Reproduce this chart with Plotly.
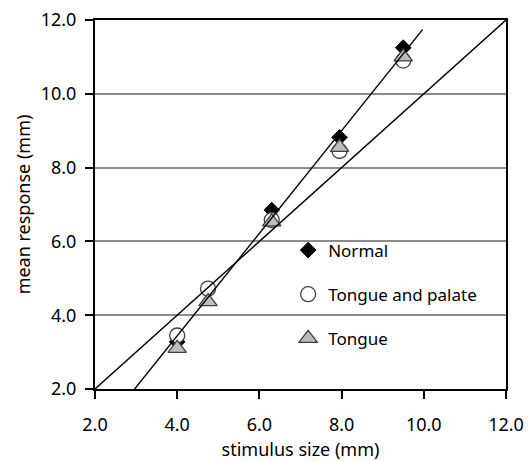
import plotly.graph_objects as go

# Mean response against stimulus size for three groups
stim_normal = [4.0, 6.3, 7.95, 9.5]
normal = [3.28, 6.85, 8.82, 11.25]

stim_groups = [4.0, 4.75, 6.3, 7.95, 9.5]
tongue_palate = [3.45, 4.72, 6.58, 8.45, 10.9]
tongue = [3.1, 4.37, 6.53, 8.55, 11.0]

# Reference lines: identity (y = x) and fitted line for the normal group
identity_x = [2.0, 12.0]
fit_slope = 1.39
fit_intercept = -2.12
fit_x = [2.96, 9.97]

tick_vals = [2, 4, 6, 8, 10, 12]
tick_text = ["2.0", "4.0", "6.0", "8.0", "10.0", "12.0"]

FONT = "Noto Sans"

fig = go.Figure()

fig.add_trace(go.Scatter(
    x=stim_normal, y=normal, mode="markers", name="Normal",
    legendgroup="a",
    marker=dict(symbol="diamond", size=12, color="black",
                line=dict(color="black", width=1)),
))
fig.add_trace(go.Scatter(
    x=stim_groups, y=tongue_palate, mode="markers", name="Tongue and palate",
    legendgroup="b",
    marker=dict(symbol="circle", size=15, color="white",
                line=dict(color="#404040", width=1.3)),
))
fig.add_trace(go.Scatter(
    x=stim_groups, y=tongue, mode="markers", name="Tongue",
    legendgroup="c",
    marker=dict(symbol="triangle-up", size=16, color="#BDBDBD",
                line=dict(color="#404040", width=1.3)),
))

fig.add_trace(go.Scatter(
    x=identity_x, y=identity_x, mode="lines", showlegend=False,
    line=dict(color="black", width=1.4), hoverinfo="skip",
))
fig.add_trace(go.Scatter(
    x=fit_x, y=[fit_slope * v + fit_intercept for v in fit_x],
    mode="lines", showlegend=False,
    line=dict(color="black", width=1.4), hoverinfo="skip",
))

axis_common = dict(
    range=[2, 12], tickvals=tick_vals, ticktext=tick_text,
    showline=True, linecolor="black", linewidth=2, mirror=True,
    ticks="outside", ticklen=8, tickwidth=1.5, tickcolor="black",
    tickfont=dict(family=FONT, size=18, color="black"),
    zeroline=False, automargin=False,
)

fig.update_xaxes(
    **axis_common, showgrid=False, ticklabelstandoff=10,
    title=dict(text="stimulus size (mm)", font=dict(family=FONT, size=18, color="black"),
               standoff=10),
)
fig.update_yaxes(
    **axis_common, showgrid=True, gridcolor="#8C8C8C", gridwidth=1.5,
    ticklabelstandoff=5,
    title=dict(text="mean response (mm)", font=dict(family=FONT, size=18, color="black"),
               standoff=5),
)

fig.update_layout(
    width=528, height=461,
    margin=dict(l=95, r=22, t=20, b=72),
    paper_bgcolor="white", plot_bgcolor="white",
    showlegend=True,
    legend=dict(
        x=0.47, y=0.424, xanchor="left", yanchor="top",
        bgcolor="rgba(0,0,0,0)", tracegroupgap=19,
        font=dict(family=FONT, size=17, color="black"),
    ),
)

fig.write_html("out.html")
